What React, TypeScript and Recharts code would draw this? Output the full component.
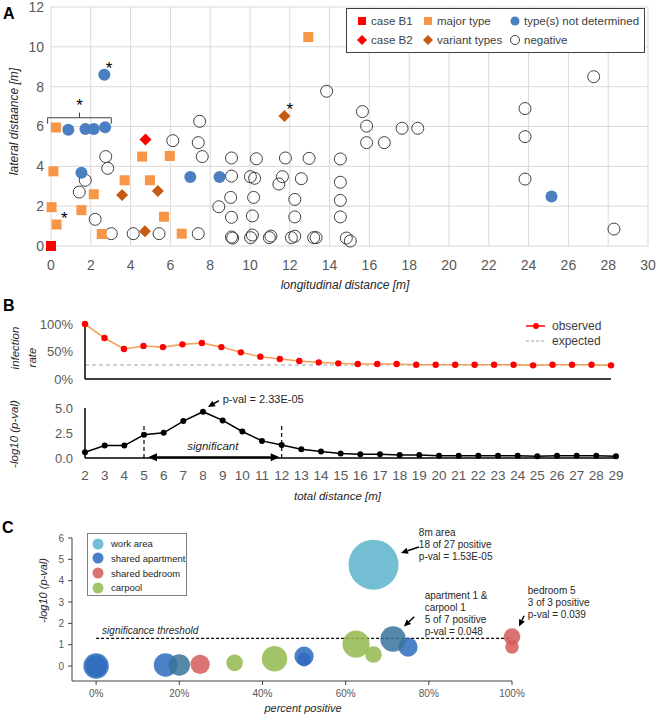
import React from 'react';
import {
  ScatterChart,
  Scatter,
  LineChart,
  Line,
  XAxis,
  YAxis,
  ZAxis,
  CartesianGrid,
  ReferenceLine,
  ReferenceDot,
} from 'recharts';

const FONT = '"Liberation Sans", Arial, sans-serif';
const GREY = '#595959';
const INK = '#262626';

// ---- A: where everybody stood [m]
const caseB1 = [{ x: 0, y: 0 }];
const caseB2 = [{ x: 4.75, y: 5.35 }];
const majorType = [
  { x: 0.25, y: 5.95 }, { x: 0.12, y: 3.75 }, { x: 0.03, y: 1.95 }, { x: 0.28, y: 1.08 },
  { x: 2.15, y: 2.6 }, { x: 1.53, y: 1.8 }, { x: 2.55, y: 0.6 }, { x: 3.7, y: 3.3 },
  { x: 4.58, y: 4.49 }, { x: 4.97, y: 3.3 }, { x: 5.97, y: 4.52 }, { x: 5.68, y: 1.47 },
  { x: 6.57, y: 0.62 }, { x: 12.93, y: 10.49 },
];
const variantTypes = [
  { x: 3.57, y: 2.56 }, { x: 5.37, y: 2.76 }, { x: 4.72, y: 0.74 }, { x: 11.73, y: 6.53 },
];
const notDetermined = [
  { x: 2.68, y: 8.6 }, { x: 0.87, y: 5.84 }, { x: 1.73, y: 5.87 }, { x: 2.15, y: 5.87 },
  { x: 2.72, y: 5.96 }, { x: 1.53, y: 3.68 }, { x: 7.0, y: 3.46 }, { x: 8.47, y: 3.46 },
  { x: 25.15, y: 2.48 },
];
const negative = [
  { x: 13.85, y: 7.77 }, { x: 7.47, y: 6.26 }, { x: 7.4, y: 5.19 }, { x: 6.12, y: 5.29 },
  { x: 7.6, y: 4.49 }, { x: 2.75, y: 4.49 }, { x: 2.85, y: 3.9 }, { x: 1.72, y: 3.3 },
  { x: 1.42, y: 2.71 }, { x: 2.22, y: 1.34 }, { x: 3.03, y: 0.62 }, { x: 4.13, y: 0.62 },
  { x: 5.43, y: 0.62 }, { x: 7.4, y: 0.62 }, { x: 8.43, y: 1.97 }, { x: 9.07, y: 4.42 },
  { x: 9.07, y: 3.51 }, { x: 9.03, y: 2.44 }, { x: 9.07, y: 1.44 }, { x: 9.07, y: 0.45 },
  { x: 9.13, y: 0.4 }, { x: 10.32, y: 4.38 }, { x: 10.02, y: 3.48 }, { x: 10.23, y: 3.4 },
  { x: 10.18, y: 2.44 }, { x: 10.12, y: 1.51 }, { x: 10.03, y: 0.42 }, { x: 10.12, y: 0.55 },
  { x: 10.97, y: 0.42 }, { x: 11.05, y: 0.5 }, { x: 11.45, y: 3.11 }, { x: 11.63, y: 3.48 },
  { x: 11.78, y: 4.42 }, { x: 12.58, y: 3.38 }, { x: 12.25, y: 2.34 }, { x: 12.25, y: 1.46 },
  { x: 12.08, y: 0.42 }, { x: 12.25, y: 0.49 }, { x: 12.97, y: 4.4 }, { x: 13.2, y: 0.42 },
  { x: 13.32, y: 0.42 }, { x: 15.65, y: 6.75 }, { x: 15.86, y: 6.02 }, { x: 15.86, y: 5.19 },
  { x: 16.75, y: 5.19 }, { x: 17.64, y: 5.91 }, { x: 18.43, y: 5.91 }, { x: 14.54, y: 4.37 },
  { x: 14.54, y: 3.2 }, { x: 14.54, y: 2.29 }, { x: 14.54, y: 1.46 }, { x: 14.84, y: 0.4 },
  { x: 15.04, y: 0.25 }, { x: 23.82, y: 6.9 }, { x: 23.82, y: 5.49 }, { x: 23.82, y: 3.36 },
  { x: 27.27, y: 8.5 }, { x: 28.29, y: 0.85 },
];
const lonTicks = [0, 2, 4, 6, 8, 10, 12, 14, 16, 18, 20, 22, 24, 26, 28, 30];
const latTicks = [0, 2, 4, 6, 8, 10, 12];

// ---- B: infection rate and enrichment by total distance
const distances = [2, 3, 4, 5, 6, 7, 8, 9, 10, 11, 12, 13, 14, 15, 16, 17, 18, 19, 20, 21, 22, 23, 24, 25, 26, 27, 28, 29];
const observed = [
  1.0, 0.745, 0.545, 0.6, 0.58, 0.63, 0.655, 0.58, 0.485, 0.406, 0.364, 0.327, 0.303, 0.285,
  0.273, 0.273, 0.273, 0.26, 0.26, 0.26, 0.26, 0.26, 0.26, 0.248, 0.26, 0.26, 0.26, 0.248,
];
const expectedRate = 0.255;
const negLogP = [
  0.57, 1.24, 1.24, 2.32, 2.52, 3.69, 4.63, 3.76, 2.65, 1.71, 1.31, 0.87, 0.64, 0.44,
  0.37, 0.37, 0.3, 0.3, 0.23, 0.23, 0.23, 0.23, 0.23, 0.17, 0.23, 0.23, 0.23, 0.17,
];
const rateTicks = [0, 0.5, 1];
const pTicks = [0, 2.5, 5];

// ---- C: groups (percent positive, -log10 p, group size)
const workArea = [{ pct: 66.7, nlp: 4.75, n: 27 }];
const sharedApartment = [
  { pct: 0, nlp: 0, n: 7 }, { pct: 0, nlp: 0, n: 5 }, { pct: 16.7, nlp: 0.05, n: 6 },
  { pct: 50, nlp: 0.46, n: 4 }, { pct: 50, nlp: 0.3, n: 2 }, { pct: 75, nlp: 0.89, n: 4 },
];
const apartmentAndCarpool = [
  { pct: 20, nlp: 0.05, n: 5 }, { pct: 71.4, nlp: 1.27, n: 7 },
];
const sharedBedroom = [
  { pct: 25, nlp: 0.08, n: 4 }, { pct: 100, nlp: 1.38, n: 3 }, { pct: 100, nlp: 0.9, n: 2 },
];
const carpool = [
  { pct: 33.3, nlp: 0.15, n: 3 }, { pct: 42.9, nlp: 0.34, n: 7 },
  { pct: 62.5, nlp: 1.03, n: 8 }, { pct: 66.7, nlp: 0.54, n: 3 },
];
const pctTicks = [0, 20, 40, 60, 80, 100];
const nlpTicks = [0, 1, 2, 3, 4, 5, 6];
const threshold = 1.3;

const C_WORK = '#5cb3cc';
const C_APT = '#2e6bbd';
const C_MIX = '#38749a';
const C_BED = '#d35a58';
const C_CAR = '#93b84f';

// marker shapes
const sq = (color: string, s = 10) => (p: any) => (
  <rect x={p.cx - s / 2} y={p.cy - s / 2} width={s} height={s} fill={color} />
);
const dia = (color: string, h = 6) => (p: any) => (
  <polygon
    points={`${p.cx},${p.cy - h} ${p.cx + h},${p.cy} ${p.cx},${p.cy + h} ${p.cx - h},${p.cy}`}
    fill={color}
  />
);
const dot = (color: string, r = 6) => (p: any) => <circle cx={p.cx} cy={p.cy} r={r} fill={color} />;
const ring = (p: any) => (
  <circle cx={p.cx} cy={p.cy} r={6} fill="none" stroke="#404040" strokeWidth={1} />
);
const bubble = (color: string) => (p: any) => {
  const r = p.size != null ? Math.sqrt(Math.max(p.size, 0) / Math.PI) : (p.width || 0) / 2;
  return <circle cx={p.cx} cy={p.cy} r={r} fill={color} fillOpacity={0.85} />;
};

const star = (p: any) => (
  <text x={p.cx} y={p.cy + 7} textAnchor="middle" fontSize={17} fill="#000">*</text>
);

const headPts = (x1: number, y1: number, x2: number, y2: number, len = 7, w = 3.2) => {
  const a = Math.atan2(y2 - y1, x2 - x1);
  const bx = x2 - len * Math.cos(a);
  const by = y2 - len * Math.sin(a);
  const nx = -Math.sin(a) * w;
  const ny = Math.cos(a) * w;
  return { pts: `${x2},${y2} ${bx + nx},${by + ny} ${bx - nx},${by - ny}`, bx, by };
};
const arrow = (p: any) => {
  const { x1, y1, x2, y2 } = p;
  const h = headPts(x1, y1, x2, y2);
  return (
    <g>
      <line x1={x1} y1={y1} x2={h.bx} y2={h.by} stroke="#000" strokeWidth={1.5} />
      <polygon points={h.pts} fill="#000" />
    </g>
  );
};
const doubleArrow = (p: any) => {
  const { x1, y1, x2, y2 } = p;
  const a = headPts(x1, y1, x2, y2, 9, 4);
  const b = headPts(x2, y2, x1, y1, 9, 4);
  return (
    <g>
      <line x1={b.bx} y1={b.by} x2={a.bx} y2={a.by} stroke="#000" strokeWidth={2} />
      <polygon points={a.pts} fill="#000" />
      <polygon points={b.pts} fill="#000" />
    </g>
  );
};
const note = (lines: string[], size: number, step: number, italic = false, anchor = 'start') => (p: any) => (
  <text
    x={p.cx}
    y={p.cy}
    fontSize={size}
    fill={INK}
    fontStyle={italic ? 'italic' : 'normal'}
    textAnchor={anchor}
  >
    {lines.map((l, i) => (
      <tspan key={i} x={p.cx} dy={i === 0 ? size * 0.36 : step}>
        {l}
      </tspan>
    ))}
  </text>
);

// axis titles drawn at fixed spots inside each chart
const title = (text: string, x: number, y: number, vertical = false, size = 12) => () => (
  <text
    x={x}
    y={y}
    transform={vertical ? `rotate(-90 ${x} ${y})` : undefined}
    textAnchor="middle"
    dominantBaseline="central"
    fontStyle="italic"
    fontSize={size}
    fill={INK}
  >
    {text}
  </text>
);

const legendA = ['case B1', 'major type', 'type(s) not determined', 'case B2', 'variant types', 'negative'];
const legendC = ['work area', 'shared apartment', 'shared bedroom', 'carpool'];

export default function App() {
  const rows = distances.map((d, i) => ({ d, observed: observed[i], negLogP: negLogP[i] }));
  const markA = [
    sq('#ff0000', 8),
    sq('#f79646', 8),
    dot('#4a7fc1', 4.5),
    dia('#ff0000', 5),
    dia('#c55a11', 5),
    (p: any) => <circle cx={p.cx} cy={p.cy} r={4.5} fill="none" stroke="#404040" />,
  ];
  const colA = [9, 75, 162];
  const colorsC = [C_WORK, C_APT, C_BED, C_CAR];

  return (
    <div
      style={{
        position: 'absolute',
        left: 0,
        top: 0,
        width: 658,
        height: 717,
        background: '#fff',
        fontFamily: FONT,
        overflow: 'hidden',
      }}
    >
      {/* Panel A */}
      <div style={{ position: 'absolute', left: 0, top: 0 }}>
        <ScatterChart width={658} height={300} margin={{ top: 7, right: 10, bottom: 14, left: 11 }}>
          <CartesianGrid stroke="#d9d9d9" />
          <XAxis
            type="number"
            dataKey="x"
            domain={[0, 30]}
            ticks={lonTicks}
            interval={0}
            axisLine={false}
            tickLine={false}
            tickSize={0}
            tickMargin={14}
            height={40}
            tick={{ fill: GREY, fontSize: 14 }}
            label={{ content: title('longitudinal distance [m]', 345, 285, false, 12) }}
          />
          <YAxis
            type="number"
            dataKey="y"
            domain={[0, 12]}
            ticks={latTicks}
            interval={0}
            axisLine={false}
            tickLine={false}
            tickSize={0}
            tickMargin={7}
            width={40}
            tick={{ fill: GREY, fontSize: 14 }}
            label={{ content: title('lateral distaance [m]', 14, 121.5, true, 12) }}
          />
          <Scatter data={negative} shape={ring} isAnimationActive={false} />
          <Scatter data={majorType} shape={sq('#f79646')} isAnimationActive={false} />
          <Scatter data={variantTypes} shape={dia('#c55a11')} isAnimationActive={false} />
          <Scatter data={notDetermined} shape={dot('#4a7fc1')} isAnimationActive={false} />
          <Scatter data={caseB2} shape={dia('#ff0000')} isAnimationActive={false} />
          <Scatter data={caseB1} shape={sq('#ff0000')} isAnimationActive={false} />
          <ReferenceLine segment={[{ x: -0.17, y: 6.44 }, { x: 3.03, y: 6.44 }]} stroke="#404040" ifOverflow="visible" />
          <ReferenceLine segment={[{ x: -0.17, y: 6.44 }, { x: -0.17, y: 6.14 }]} stroke="#404040" ifOverflow="visible" />
          <ReferenceLine segment={[{ x: 3.03, y: 6.44 }, { x: 3.03, y: 6.14 }]} stroke="#404040" ifOverflow="visible" />
          <ReferenceLine segment={[{ x: 1.43, y: 6.44 }, { x: 1.43, y: 6.7 }]} stroke="#404040" ifOverflow="visible" />
          <ReferenceDot x={1.43} y={7.15} r={0} shape={star} ifOverflow="visible" />
          <ReferenceDot x={2.92} y={9.0} r={0} shape={star} ifOverflow="visible" />
          <ReferenceDot x={0.67} y={1.46} r={0} shape={star} ifOverflow="visible" />
          <ReferenceDot x={12.0} y={6.93} r={0} shape={star} ifOverflow="visible" />
        </ScatterChart>
      </div>
      <div
        style={{
          position: 'absolute',
          left: 346,
          top: 8,
          width: 297,
          height: 43,
          border: '1px solid #404040',
          background: '#fff',
          fontSize: 11.5,
          color: '#404040',
        }}
      >
        {legendA.map((label, i) => {
          const col = i % 3;
          const row = Math.floor(i / 3);
          return (
            <div
              key={label}
              style={{ position: 'absolute', left: colA[col], top: 4 + row * 18.5, height: 16, display: 'flex', alignItems: 'center' }}
            >
              <svg width={12} height={12} style={{ marginRight: 3 }}>
                {markA[i]({ cx: 6, cy: 6 })}
              </svg>
              <span style={{ whiteSpace: 'nowrap' }}>{label}</span>
            </div>
          );
        })}
      </div>

      {/* Panel B, infection rate */}
      <div style={{ position: 'absolute', left: 0, top: 300 }}>
        <LineChart width={658} height={90} data={rows} margin={{ top: 24, right: 47, bottom: 10, left: 10 }}>
          <XAxis
            type="number"
            dataKey="d"
            domain={[2, 29]}
            tick={false}
            tickLine={false}
            height={1}
            axisLine={{ stroke: '#000', strokeWidth: 1.5 }}
          />
          <YAxis
            type="number"
            domain={[0, 1]}
            ticks={rateTicks}
            interval={0}
            tickFormatter={(v: number) => `${Math.round(v * 100)}%`}
            tickLine={false}
            tickSize={0}
            tickMargin={12}
            width={75}
            tick={{ fill: GREY, fontSize: 13 }}
            axisLine={{ stroke: '#000', strokeWidth: 1.5 }}
            label={{
              content: () => (
                <g>
                  {title('infection', 15, 48, true, 11.5)()}
                  {title('rate', 32, 57.5, true, 11.5)()}
                </g>
              ),
            }}
          />
          <ReferenceLine y={expectedRate} stroke="#a6a6a6" strokeDasharray="4 3" />
          <Line
            dataKey="observed"
            stroke="#f5a15a"
            strokeWidth={1.6}
            dot={{ r: 3.2, fill: '#ff0000', stroke: '#ff0000', strokeWidth: 0 }}
            isAnimationActive={false}
          />
        </LineChart>
      </div>
      <div style={{ position: 'absolute', left: 526, top: 318, fontSize: 12, color: '#404040' }}>
        <div style={{ display: 'flex', alignItems: 'center', height: 15 }}>
          <svg width={20} height={10} style={{ marginRight: 6 }}>
            <line x1={0} y1={5} x2={19} y2={5} stroke="#ff0000" strokeWidth={1.5} />
            <circle cx={10} cy={5} r={3} fill="#ff0000" />
          </svg>
          observed
        </div>
        <div style={{ display: 'flex', alignItems: 'center', height: 15 }}>
          <svg width={20} height={10} style={{ marginRight: 6 }}>
            <line x1={0} y1={5} x2={19} y2={5} stroke="#a6a6a6" strokeWidth={1} strokeDasharray="3 2" />
          </svg>
          expected
        </div>
      </div>

      {/* Panel B, -log10 p */}
      <div style={{ position: 'absolute', left: 0, top: 385 }}>
        <LineChart width={658} height={121} data={rows} margin={{ top: 23, right: 42, bottom: 0, left: 10 }}>
          <XAxis
            type="number"
            dataKey="d"
            domain={[2, 29]}
            ticks={distances}
            interval={0}
            tickLine={false}
            tickSize={0}
            tickMargin={12}
            height={48}
            tick={{ fill: GREY, fontSize: 13.5 }}
            axisLine={{ stroke: '#000', strokeWidth: 1.5 }}
            label={{ content: title('total distance [m]', 337.5, 111, false, 11.5) }}
          />
          <YAxis
            type="number"
            domain={[0, 5]}
            ticks={pTicks}
            interval={0}
            tickFormatter={(v: number) => v.toFixed(1)}
            tickLine={false}
            tickSize={0}
            tickMargin={12}
            width={75}
            tick={{ fill: GREY, fontSize: 13 }}
            axisLine={{ stroke: '#000', strokeWidth: 1.5 }}
            label={{ content: title('-log10 (p-val)', 14, 49, true, 11.5) }}
          />
          <ReferenceLine segment={[{ x: 5, y: 0 }, { x: 5, y: 3.2 }]} stroke="#000" strokeWidth={1.2} strokeDasharray="4 3" ifOverflow="visible" />
          <ReferenceLine segment={[{ x: 12, y: 0 }, { x: 12, y: 3.2 }]} stroke="#000" strokeWidth={1.2} strokeDasharray="4 3" ifOverflow="visible" />
          <ReferenceLine segment={[{ x: 5.2, y: 0.08 }, { x: 11.9, y: 0.08 }]} shape={doubleArrow} ifOverflow="visible" />
          <ReferenceDot x={8.5} y={1.2} r={0} shape={note(['significant'], 11.5, 0, true, 'middle')} ifOverflow="visible" />
          <Line
            dataKey="negLogP"
            stroke="#000"
            strokeWidth={1.5}
            dot={{ r: 3, fill: '#000', stroke: '#000', strokeWidth: 0 }}
            isAnimationActive={false}
          />
          <ReferenceLine segment={[{ x: 8.81, y: 5.74 }, { x: 8.25, y: 5.1 }]} shape={arrow} ifOverflow="visible" />
          <ReferenceDot x={9.0} y={5.9} r={0} shape={note(['p-val = 2.33E-05'], 11, 0)} ifOverflow="visible" />
        </LineChart>
      </div>

      {/* Panel C */}
      <div style={{ position: 'absolute', left: 0, top: 517 }}>
        <ScatterChart width={658} height={200} margin={{ top: 21, right: 146, bottom: 0, left: 22 }}>
          <XAxis
            type="number"
            dataKey="pct"
            domain={[-5.8, 100]}
            ticks={pctTicks}
            interval={0}
            tickFormatter={(v: number) => `${v}%`}
            tickSize={4}
            tickMargin={4.5}
            height={36}
            stroke="#404040"
            tick={{ fill: GREY, fontSize: 10 }}
            label={{ content: title('percent positive', 303, 191, false, 11) }}
          />
          <YAxis
            type="number"
            dataKey="nlp"
            domain={[-0.7, 6]}
            ticks={nlpTicks}
            interval={0}
            tickSize={4}
            tickMargin={4}
            width={50}
            stroke="#404040"
            tick={{ fill: GREY, fontSize: 10 }}
            label={{ content: title('-log10 (p-val)', 43.3, 73.5, true, 11) }}
          />
          <ZAxis type="number" dataKey="n" domain={[0, 27]} range={[0, 1963]} />
          <ReferenceLine
            segment={[{ x: 0, y: threshold }, { x: 100, y: threshold }]}
            stroke="#000"
            strokeWidth={1.2}
            strokeDasharray="3 2"
            ifOverflow="visible"
          />
          <Scatter data={workArea} shape={bubble(C_WORK)} isAnimationActive={false} />
          <Scatter data={sharedBedroom} shape={bubble(C_BED)} isAnimationActive={false} />
          <Scatter data={carpool} shape={bubble(C_CAR)} isAnimationActive={false} />
          <Scatter data={sharedApartment} shape={bubble(C_APT)} isAnimationActive={false} />
          <Scatter data={apartmentAndCarpool} shape={bubble(C_MIX)} isAnimationActive={false} />
          <ReferenceDot x={1.44} y={1.69} r={0} shape={note(['significance threshold'], 10, 0, true)} ifOverflow="visible" />
          <ReferenceDot x={77.6} y={6.25} r={0} shape={note(['8m area', '18 of 27 positive', 'p-val = 1.53E-05'], 10, 11.8)} ifOverflow="visible" />
          <ReferenceLine segment={[{ x: 77.6, y: 5.58 }, { x: 73.3, y: 5.3 }]} shape={arrow} ifOverflow="visible" />
          <ReferenceDot
            x={79.0}
            y={3.29}
            r={0}
            shape={note(['apartment 1 &', 'carpool 1', '5 of 7 positive', 'p-val = 0.048'], 10, 11.8)}
            ifOverflow="visible"
          />
          <ReferenceLine segment={[{ x: 76.5, y: 2.31 }, { x: 74.0, y: 1.85 }]} shape={arrow} ifOverflow="visible" />
          <ReferenceDot
            x={103.8}
            y={3.56}
            r={0}
            shape={note(['bedroom 5', '3 of 3 positive', 'p-val = 0.039'], 10, 12)}
            ifOverflow="visible"
          />
          <ReferenceLine segment={[{ x: 102.9, y: 2.36 }, { x: 101.7, y: 1.85 }]} shape={arrow} ifOverflow="visible" />
        </ScatterChart>
      </div>
      <div
        style={{
          position: 'absolute',
          left: 87,
          top: 533,
          width: 98,
          height: 61,
          border: '1px solid #7f7f7f',
          background: '#fff',
          fontSize: 9.5,
          color: INK,
        }}
      >
        {legendC.map((label, i) => (
          <div key={label} style={{ position: 'absolute', left: 4, top: 2.5 + i * 14.8, height: 14, display: 'flex', alignItems: 'center' }}>
            <svg width={12} height={12} style={{ marginRight: 7 }}>
              <circle cx={6} cy={6} r={5.5} fill={colorsC[i]} fillOpacity={0.85} />
            </svg>
            <span style={{ whiteSpace: 'nowrap' }}>{label}</span>
          </div>
        ))}
      </div>

      {/* panel letters */}
      <div style={{ position: 'absolute', left: 3, top: 5, fontWeight: 'bold', fontSize: 16 }}>A</div>
      <div style={{ position: 'absolute', left: 3, top: 297, fontWeight: 'bold', fontSize: 16 }}>B</div>
      <div style={{ position: 'absolute', left: 2, top: 519, fontWeight: 'bold', fontSize: 16 }}>C</div>
    </div>
  );
}
